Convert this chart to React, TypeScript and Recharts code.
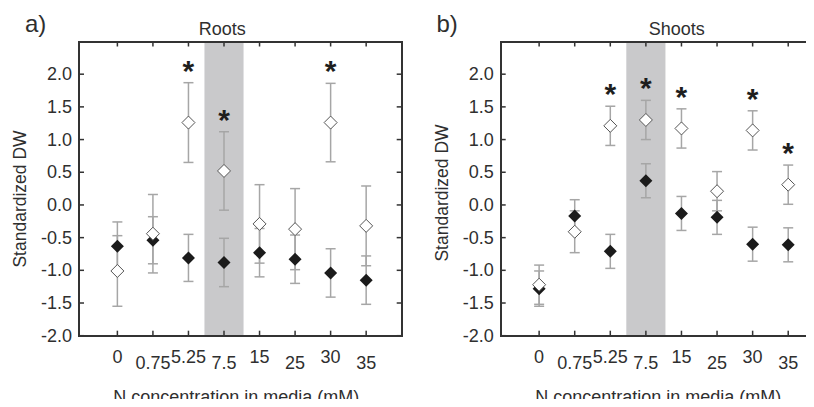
import { ScatterChart, Scatter, XAxis, YAxis, ErrorBar, ReferenceArea } from 'recharts';

// N concentration (mM) categories, in plotting order
const concLabels = ['0', '0.75', '5.25', '7.5', '15', '25', '30', '35'];
const highlightConc = '7.5';
const yTicks = [-2, -1.5, -1, -0.5, 0, 0.5, 1, 1.5, 2];
const X_DOMAIN: [number, number] = [-0.08, 9];
const Y_DOMAIN: [number, number] = [-2, 2.5];

// a) Roots – open and filled diamonds, mean ± error
const rootsOpen = [-1.01, -0.44, 1.26, 0.52, -0.29, -0.37, 1.26, -0.32];
const rootsOpenErr = [0.54, 0.6, 0.61, 0.6, 0.6, 0.62, 0.6, 0.61];
const rootsFilled = [-0.63, -0.54, -0.81, -0.88, -0.73, -0.83, -1.04, -1.15];
const rootsFilledErr = [0.37, 0.36, 0.36, 0.37, 0.37, 0.37, 0.37, 0.37];
const rootsSig = [false, false, true, true, false, false, true, false];

// b) Shoots
const shootsOpen = [-1.22, -0.41, 1.21, 1.3, 1.17, 0.21, 1.14, 0.31];
const shootsOpenErr = [0.3, 0.32, 0.3, 0.3, 0.3, 0.3, 0.3, 0.3];
const shootsFilled = [-1.28, -0.17, -0.71, 0.37, -0.13, -0.19, -0.6, -0.61];
const shootsFilledErr = [0.27, 0.25, 0.26, 0.26, 0.26, 0.26, 0.26, 0.26];
const shootsSig = [false, false, true, true, true, false, true, true];

const FONT = '"Liberation Sans", Arial, Helvetica, sans-serif';
const AXIS = '#333333';
const TEXT = '#2f2f2f';
const ERR = '#a6a6a6';
const TICK_LEN = 5;
const TICK_W = 1.5;
const FRAME_W = 2;

// layout of the two panels (px)
const PLOT_TOP = 41.5;
const PLOT_BOTTOM = 335.7;
const CHART_H = 407;

const toPoints = (means: number[], errs: number[]) =>
  means.map((y, i) => ({ x: i + 1, y, err: errs[i] }));

const diamondPoints = (cx: number, cy: number, r: number) =>
  `${cx},${cy - r} ${cx + r},${cy} ${cx},${cy + r} ${cx - r},${cy}`;

const openDiamond = (p: any) => (
  <polygon points={diamondPoints(p.cx, p.cy, 6.5)} fill="#fff" stroke="#555" strokeWidth={1} />
);

const filledDiamond = (p: any) => (
  <polygon points={diamondPoints(p.cx, p.cy, 6.5)} fill="#1b1b1b" />
);

// significance asterisk, sits just above the top of the error bar
const star = (p: any) => (
  <text x={p.cx} y={p.cy - 2} textAnchor="middle" fontSize={30} fontWeight="bold" fill="#1e1e1e" fontFamily={FONT}>
    *
  </text>
);

const nothing = () => <g />;

// tick renderers: each draws its own inward tick mark as a thin filled bar
// (tickSize 0, so x/y sit tickMargin away from the axis)
const bottomTick = (p: any) => (
  <g>
    <rect x={p.x - TICK_W / 2} y={p.y - 21 - TICK_LEN} width={TICK_W} height={TICK_LEN} fill={AXIS} />
    <text x={p.x} y={p.y + (p.index % 2 ? 6.5 : 0)} textAnchor="middle" dominantBaseline="central" fontSize={18} fill={TEXT} fontFamily={FONT}>
      {concLabels[p.payload.value - 1]}
    </text>
  </g>
);

const topTick = (p: any) => (
  <rect x={p.x - TICK_W / 2} y={p.y} width={TICK_W} height={TICK_LEN} fill={AXIS} />
);

const leftTick = (p: any) => (
  <g>
    <rect x={p.x + 7} y={p.y - TICK_W / 2} width={TICK_LEN} height={TICK_W} fill={AXIS} />
    <text x={p.x} y={p.y} textAnchor="end" dominantBaseline="central" fontSize={18} fill={TEXT} fontFamily={FONT}>
      {p.payload.value.toFixed(1)}
    </text>
  </g>
);

const rightTick = (p: any) => (
  <rect x={p.x - TICK_LEN} y={p.y - TICK_W / 2} width={TICK_LEN} height={TICK_W} fill={AXIS} />
);

interface PanelProps {
  open: number[];
  openErr: number[];
  filled: number[];
  filledErr: number[];
  sig: boolean[];
  width: number;
  plotLeft: number;
  plotRight: number;
}

function Panel({ open, openErr, filled, filledErr, sig, width, plotLeft, plotRight }: PanelProps) {
  const hl = concLabels.indexOf(highlightConc) + 1;
  const stars = open
    .map((y, i) => ({ x: i + 1, y: y + openErr[i] }))
    .filter((_, i) => sig[i]);
  const ticks = concLabels.map((_, i) => i + 1);
  const filledPts = toPoints(filled, filledErr);
  return (
    <ScatterChart width={width} height={CHART_H}
      margin={{ top: PLOT_TOP - 1, right: width - plotRight - 1, bottom: CHART_H - PLOT_BOTTOM - 1, left: plotLeft - 1 }}>
      <ReferenceArea xAxisId="b" yAxisId="l" x1={hl - 0.55} x2={hl + 0.55} y1={Y_DOMAIN[0]} y2={Y_DOMAIN[1]} fill="#c9c9cb" fillOpacity={1} stroke="none" />
      <XAxis xAxisId="b" type="number" dataKey="x" domain={X_DOMAIN} ticks={ticks} allowDataOverflow height={1}
        tickSize={0} tickMargin={21} tick={bottomTick} axisLine={false} tickLine={false} />
      <XAxis xAxisId="t" orientation="top" type="number" dataKey="x" domain={X_DOMAIN} ticks={ticks} allowDataOverflow height={1}
        tickSize={0} tickMargin={0} tick={topTick} axisLine={false} tickLine={false} />
      <YAxis yAxisId="l" type="number" dataKey="y" domain={Y_DOMAIN} ticks={yTicks} allowDataOverflow width={1}
        tickSize={0} tickMargin={7} tick={leftTick} axisLine={false} tickLine={false} />
      <YAxis yAxisId="r" orientation="right" type="number" dataKey="y" domain={Y_DOMAIN} ticks={yTicks} allowDataOverflow width={1}
        tickSize={0} tickMargin={0} tick={rightTick} axisLine={false} tickLine={false} />
      {/* invisible series so the top and right frame axes get their ticks */}
      <Scatter xAxisId="t" yAxisId="r" data={filledPts} shape={nothing} isAnimationActive={false} />
      <Scatter xAxisId="b" yAxisId="l" data={filledPts} shape={filledDiamond} isAnimationActive={false}>
        <ErrorBar dataKey="err" direction="y" width={5} stroke={ERR} strokeWidth={1.5} isAnimationActive={false} />
      </Scatter>
      <Scatter xAxisId="b" yAxisId="l" data={toPoints(open, openErr)} shape={openDiamond} isAnimationActive={false}>
        <ErrorBar dataKey="err" direction="y" width={5} stroke={ERR} strokeWidth={1.5} isAnimationActive={false} />
      </Scatter>
      <Scatter xAxisId="b" yAxisId="l" data={stars} shape={star} isAnimationActive={false} />
    </ScatterChart>
  );
}

const LEFT_PANEL = { x: 0, width: 410, plotLeft: 79, plotRight: 401.7 };
const RIGHT_PANEL = { x: 410, width: 420, plotLeft: 90.7, plotRight: 413.8 };

// frame around one plot area, as a bordered box over the chart
function Frame({ x, plotLeft, plotRight }: { x: number; plotLeft: number; plotRight: number }) {
  return (
    <div
      style={{
        position: 'absolute',
        boxSizing: 'border-box',
        left: x + plotLeft - FRAME_W / 2,
        top: PLOT_TOP - FRAME_W / 2,
        width: plotRight - plotLeft + FRAME_W,
        height: PLOT_BOTTOM - PLOT_TOP + FRAME_W,
        border: `${FRAME_W}px solid ${AXIS}`,
        pointerEvents: 'none',
      }}
    />
  );
}

export default function App() {
  const label = { fontFamily: FONT, fill: TEXT };
  return (
    // normal-flow box that cancels the body margin, so the page has real height
    <div style={{ position: 'relative', margin: -8, width: 814, height: 407, overflow: 'hidden', background: '#fff' }}>
      <div style={{ position: 'absolute', left: LEFT_PANEL.x, top: 0 }}>
        <Panel open={rootsOpen} openErr={rootsOpenErr} filled={rootsFilled} filledErr={rootsFilledErr} sig={rootsSig}
          width={LEFT_PANEL.width} plotLeft={LEFT_PANEL.plotLeft} plotRight={LEFT_PANEL.plotRight} />
      </div>
      <div style={{ position: 'absolute', left: RIGHT_PANEL.x, top: 0 }}>
        <Panel open={shootsOpen} openErr={shootsOpenErr} filled={shootsFilled} filledErr={shootsFilledErr} sig={shootsSig}
          width={RIGHT_PANEL.width} plotLeft={RIGHT_PANEL.plotLeft} plotRight={RIGHT_PANEL.plotRight} />
      </div>
      <Frame {...LEFT_PANEL} />
      <Frame {...RIGHT_PANEL} />
      {/* panel letters, titles and axis titles */}
      <svg width={814} height={407} style={{ position: 'absolute', left: 0, top: 0, pointerEvents: 'none' }}>
        <text x={25} y={23.5} dominantBaseline="central" fontSize={24} {...label}>a)</text>
        <text x={436.5} y={23.5} dominantBaseline="central" fontSize={24} {...label}>b)</text>
        <text x={222.3} y={29.3} textAnchor="middle" dominantBaseline="central" fontSize={18} {...label}>Roots</text>
        <text x={676.7} y={29.3} textAnchor="middle" dominantBaseline="central" fontSize={18} {...label}>Shoots</text>
        <text x={20} y={199} textAnchor="middle" dominantBaseline="central" fontSize={17.5} transform="rotate(-90 20 199)" {...label}>Standardized DW</text>
        <text x={442} y={193} textAnchor="middle" dominantBaseline="central" fontSize={17.5} transform="rotate(-90 442 193)" {...label}>Standardized DW</text>
        <text x={236.3} y={396.7} textAnchor="middle" dominantBaseline="central" fontSize={18} {...label}>N concentration in media (mM)</text>
        <text x={658.3} y={396.7} textAnchor="middle" dominantBaseline="central" fontSize={18} {...label}>N concentration in media (mM)</text>
      </svg>
    </div>
  );
}
